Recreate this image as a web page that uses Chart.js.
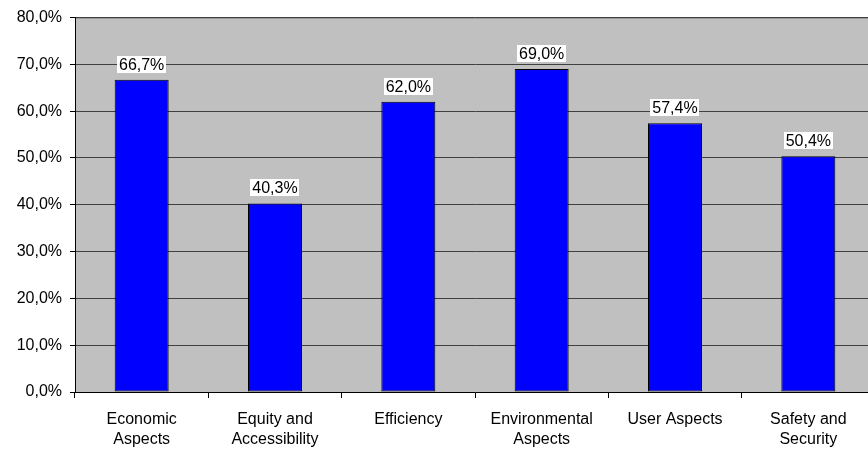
<!DOCTYPE html>
<html>
<head>
<meta charset="utf-8">
<script src="https://cdn.jsdelivr.net/npm/chart.js@4"></script>
<style>
  html, body { margin: 0; padding: 0; background: #fff; overflow: hidden; }
  #wrap { position: relative; width: 880px; height: 451px; }
</style>
</head>
<body>
<div id="wrap"><canvas id="aspectsChart"></canvas></div>
<script>
const categories = [
    ['Economic', 'Aspects'],
    ['Equity and', 'Accessibility'],
    'Efficiency',
    ['Environmental', 'Aspects'],
    'User Aspects',
    ['Safety and', 'Security']
];
const shares = [66.7, 40.3, 62.0, 69.0, 57.4, 50.4];
const yTicks = [0, 10, 20, 30, 40, 50, 60, 70, 80];

const fmtPct = v => v.toFixed(1).replace('.', ',') + '%';
const FONT = { family: '"Liberation Sans", Arial, sans-serif', size: 16 };

// gray plot background plus the thin top/right frame
const plotFrame = {
    id: 'plotFrame',
    beforeDraw(chart) {
        const { ctx, chartArea: a } = chart;
        ctx.save();
        ctx.fillStyle = '#C0C0C0';
        ctx.fillRect(a.left, a.top, a.right - a.left, a.bottom - a.top);
        ctx.strokeStyle = '#808080';
        ctx.lineWidth = 1;
        ctx.beginPath();
        ctx.moveTo(a.left, a.top + 0.5);
        ctx.lineTo(a.right - 0.5, a.top + 0.5);
        ctx.lineTo(a.right - 0.5, a.bottom);
        ctx.stroke();
        ctx.restore();
    }
};

// value labels in white boxes above each bar
const valueLabels = {
    id: 'valueLabels',
    afterDatasetsDraw(chart) {
        const { ctx } = chart;
        const meta = chart.getDatasetMeta(0);
        ctx.save();
        ctx.font = FONT.size + 'px ' + FONT.family;
        ctx.textAlign = 'center';
        ctx.textBaseline = 'middle';
        meta.data.forEach((bar, i) => {
            const text = fmtPct(shares[i]);
            const w = ctx.measureText(text).width + 4;
            const h = 17;
            const bottom = bar.y - 7;
            ctx.fillStyle = '#fff';
            ctx.fillRect(Math.round(bar.x - w / 2), Math.round(bottom - h), Math.round(w), h);
            ctx.fillStyle = '#000';
            ctx.fillText(text, bar.x, bottom - h / 2 + 1);
        });
        ctx.restore();
    }
};

new Chart(document.getElementById('aspectsChart'), {
    type: 'bar',
    data: {
        labels: categories,
        datasets: [{
            data: shares,
            backgroundColor: '#0000FF',
            borderColor: '#000',
            borderWidth: 1,
            borderSkipped: false,
            barPercentage: 0.405,
            categoryPercentage: 1
        }]
    },
    options: {
        responsive: true,
        maintainAspectRatio: false,
        animation: false,
        layout: { padding: { top: 16, right: 5, left: 0, bottom: 0 } },
        plugins: {
            legend: { display: false },
            tooltip: { enabled: false }
        },
        scales: {
            x: {
                offset: true,
                grid: { drawOnChartArea: false, offset: true, color: '#000', tickLength: 6 },
                border: { color: '#000' },
                ticks: { color: '#000', font: { ...FONT, lineHeight: 1.25 }, padding: 12, maxRotation: 0, autoSkip: false },
                afterFit(scale) { scale.height = 59; }
            },
            y: {
                min: 0,
                max: 80,
                afterBuildTicks(scale) { scale.ticks = yTicks.map(v => ({ value: v })); },
                grid: { color: '#404040', tickLength: 5, tickColor: '#000' },
                border: { color: '#000' },
                ticks: { color: '#000', font: FONT, padding: 8, callback: v => fmtPct(v) },
                afterFit(scale) { scale.width = 75; }
            }
        }
    },
    plugins: [plotFrame, valueLabels]
});
</script>
</body>
</html>
